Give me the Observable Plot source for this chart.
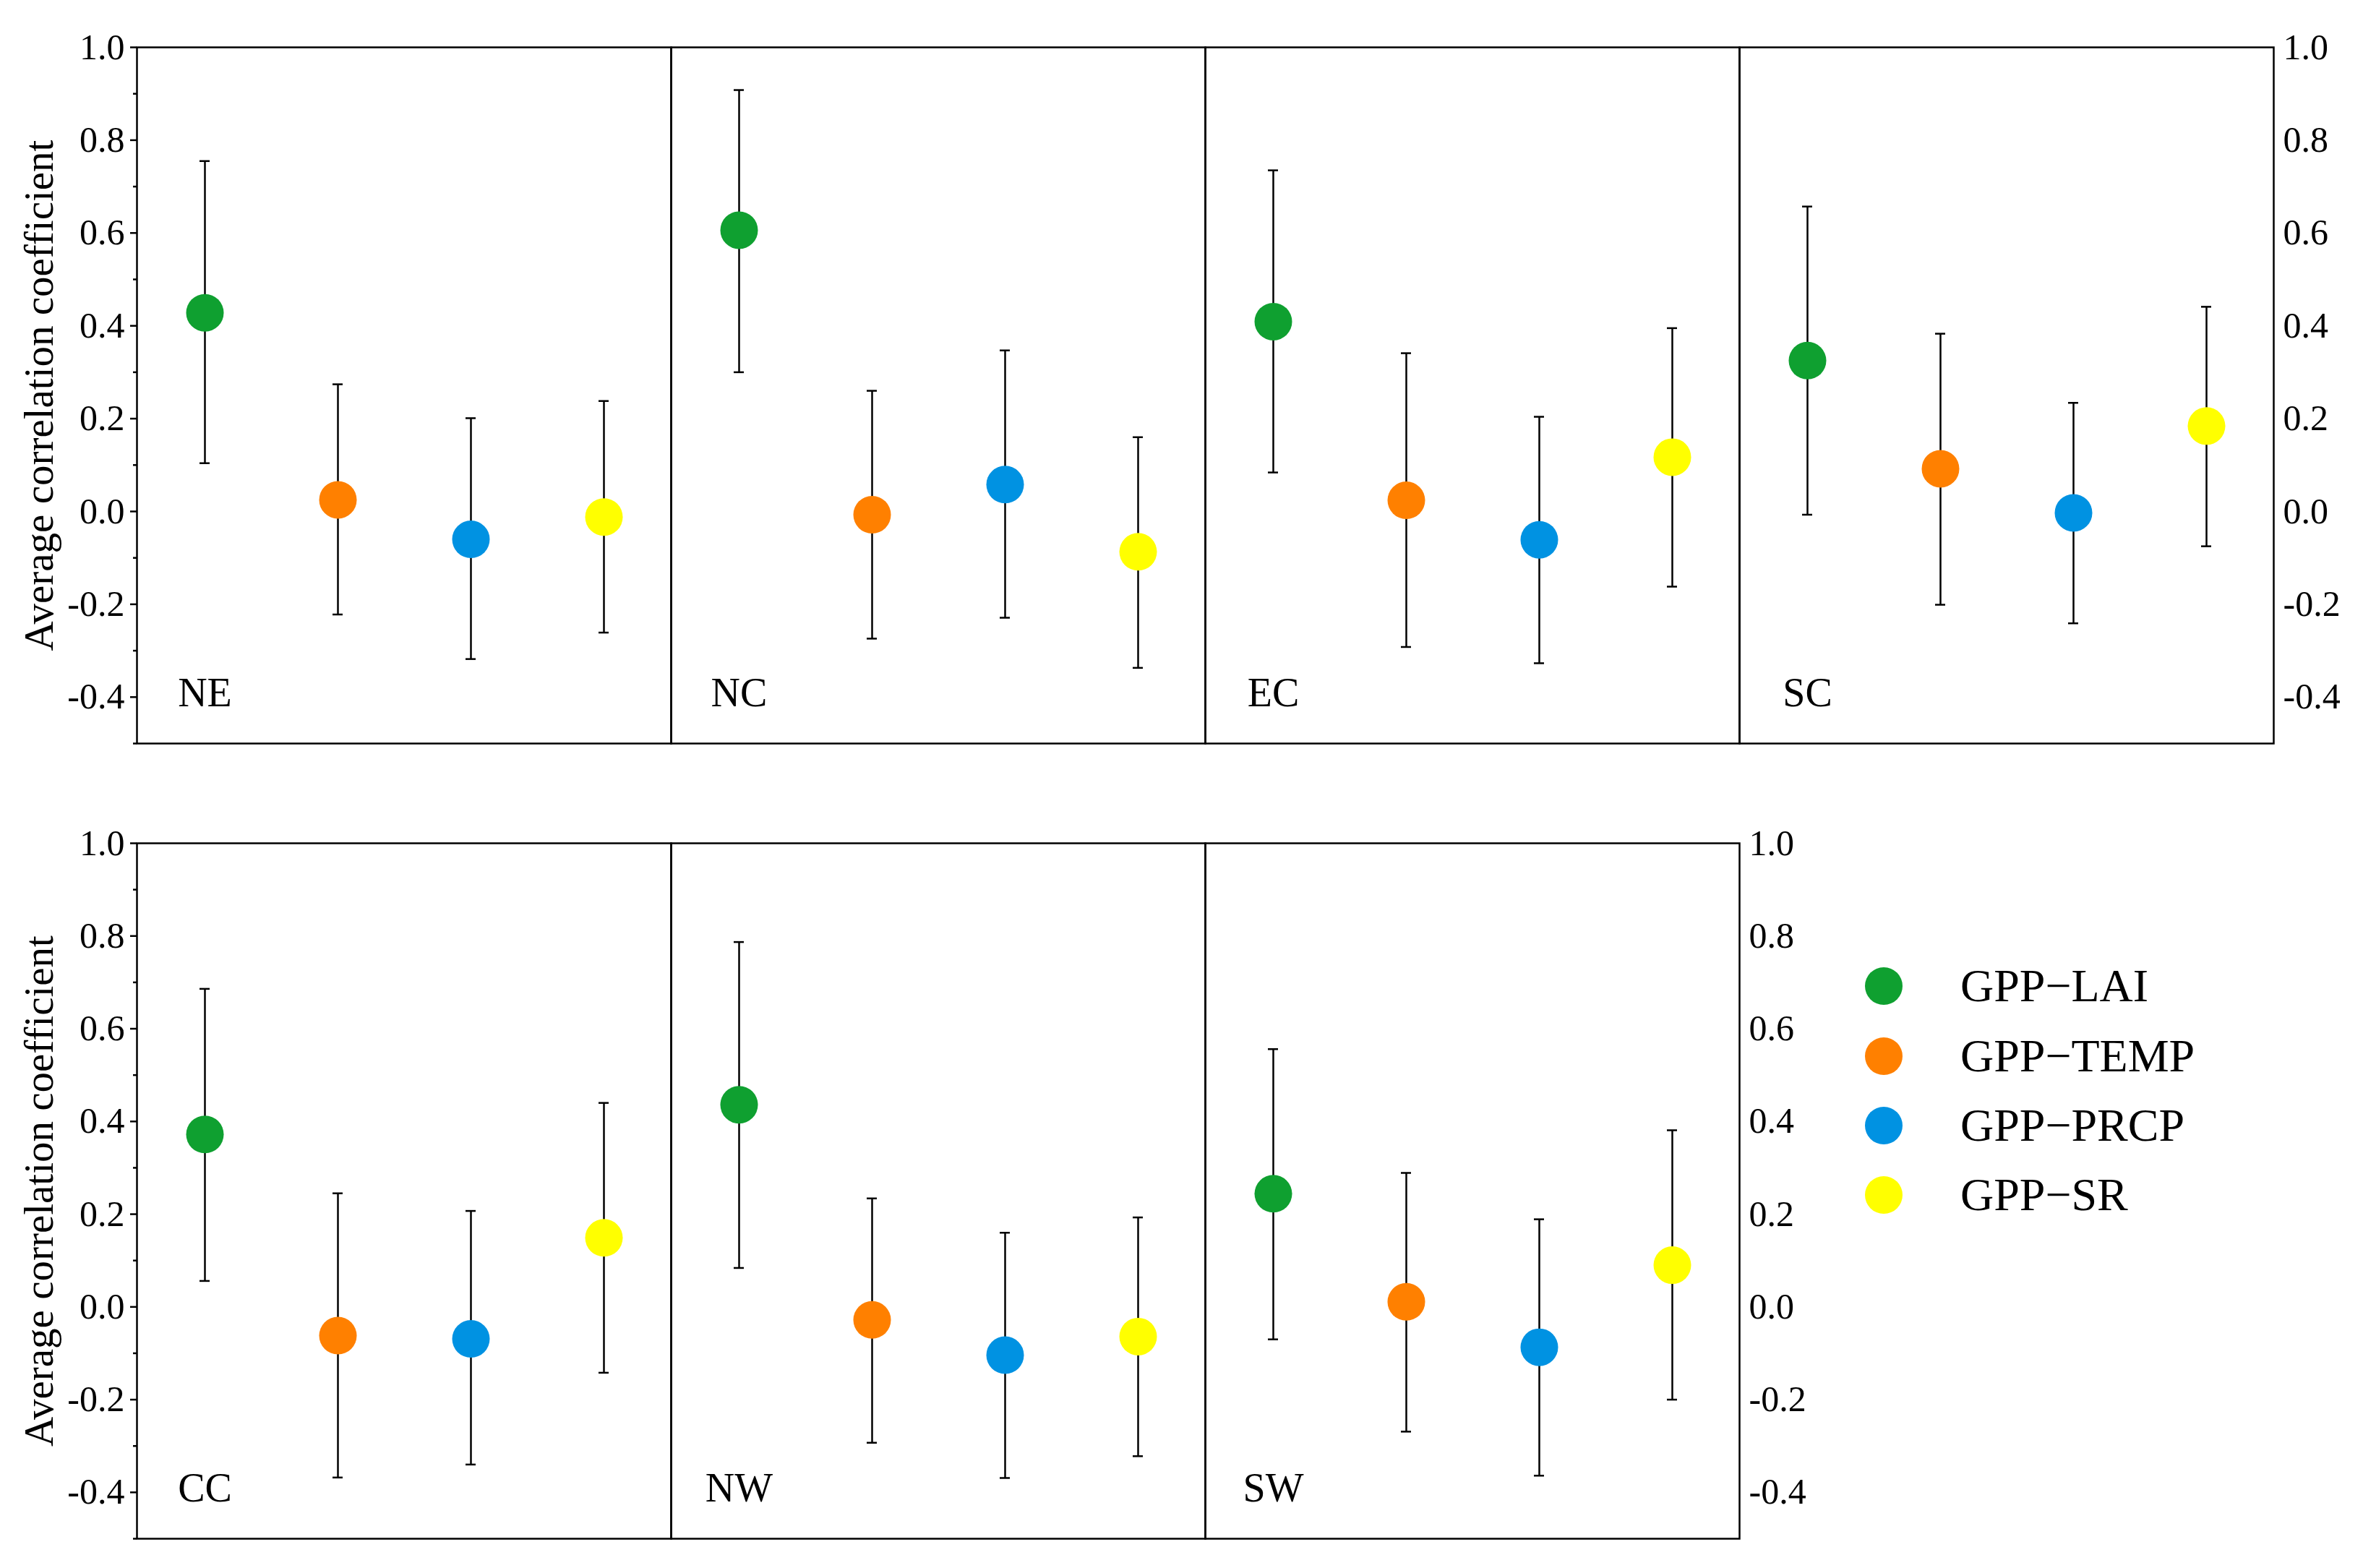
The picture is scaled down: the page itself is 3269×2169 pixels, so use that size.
<!DOCTYPE html>
<html>
<head>
<meta charset="utf-8">
<script src="https://cdn.jsdelivr.net/npm/d3@7"></script>
<script src="https://cdn.jsdelivr.net/npm/@observablehq/plot@0.6"></script>
<style>
html, body { margin: 0; padding: 0; background: #fff; }
#wrap { position: relative; width: 3269px; height: 2169px; font-family: 'Liberation Serif', serif; background: #fff; }
#top { position: absolute; left: 0; top: 0; }
#bottom { position: absolute; left: 0; top: 1100px; }
#legend { position: absolute; left: 2580px; top: 1316px; }
.item { display: flex; align-items: center; height: 96.4px; }
.sw { width: 52px; height: 52px; border-radius: 50%; margin-right: 80px; flex: none; }
.lab { font-size: 64px; line-height: 1; color: #000; white-space: nowrap; }
</style>
</head>
<body>
<div id="wrap">
  <div id="top"></div>
  <div id="bottom"></div>
  <div id="legend"></div>
</div>
<script>
// ---- data ----
const topRegions = ["NE", "NC", "EC", "SC"];
const bottomRegions = ["CC", "NW", "SW"];
const regions = ["NE", "NC", "EC", "SC", "CC", "NW", "SW"];
const pairs = ["GPP\u2212LAI", "GPP\u2212TEMP", "GPP\u2212PRCP", "GPP\u2212SR"];
const colors = ["#0fa030", "#ff8000", "#0092e2", "#ffff00"];
const majorTicks = [-0.4, -0.2, 0.0, 0.2, 0.4, 0.6, 0.8, 1.0];
const minorTicks = [-0.5, -0.3, -0.1, 0.1, 0.3, 0.5, 0.7, 0.9];
const yLabel = "Average correlation coefficient";

// values per pair, in region order NE, NC, EC, SC, CC, NW, SW
const laiMean  = [0.428, 0.606, 0.409, 0.325, 0.372, 0.436, 0.244];
const laiHigh  = [0.755, 0.908, 0.735, 0.657, 0.686, 0.787, 0.556];
const laiLow   = [0.104, 0.300, 0.084, -0.007, 0.056, 0.084, -0.070];
const tempMean = [0.025, -0.007, 0.024, 0.092, -0.062, -0.028, 0.011];
const tempHigh = [0.274, 0.260, 0.341, 0.383, 0.245, 0.234, 0.289];
const tempLow  = [-0.222, -0.274, -0.292, -0.201, -0.368, -0.293, -0.269];
const prcpMean = [-0.060, 0.058, -0.061, -0.003, -0.069, -0.104, -0.087];
const prcpHigh = [0.201, 0.347, 0.204, 0.234, 0.207, 0.160, 0.189];
const prcpLow  = [-0.318, -0.229, -0.327, -0.241, -0.340, -0.369, -0.364];
const srMean   = [-0.012, -0.087, 0.117, 0.184, 0.149, -0.064, 0.090];
const srHigh   = [0.238, 0.160, 0.395, 0.441, 0.440, 0.193, 0.381];
const srLow    = [-0.261, -0.337, -0.162, -0.075, -0.142, -0.322, -0.200];

const means = [laiMean, tempMean, prcpMean, srMean];
const highs = [laiHigh, tempHigh, prcpHigh, srHigh];
const lows = [laiLow, tempLow, prcpLow, srLow];

const rows = [];
regions.forEach((region, ri) => {
  pairs.forEach((pair, pi) => {
    rows.push({region, pair, mean: means[pi][ri], high: highs[pi][ri], low: lows[pi][ri]});
  });
});

const fmt = d => d.toFixed(1);
const labelY = -0.42;
const capInset = 85;

function chart(regs, width, height, margins) {
  const data = rows.filter(d => regs.includes(d.region));
  const labels = regs.map(r => ({region: r}));
  return Plot.plot({
    width, height,
    marginTop: margins[0], marginRight: margins[1], marginBottom: margins[2], marginLeft: margins[3],
    style: {fontFamily: "'Liberation Serif', serif", background: "white", color: "black"},
    fx: {domain: regs, padding: 0, axis: null},
    x: {domain: pairs, padding: 0, axis: null},
    y: {domain: [-0.5, 1.0]},
    color: {domain: pairs, range: colors},
    marks: [
      Plot.frame({stroke: "black", strokeWidth: 2.5}),
      Plot.axisY({anchor: "left", ticks: minorTicks, tickSize: 5, tickFormat: () => "", strokeWidth: 2.5, label: null}),
      Plot.axisY({anchor: "left", ticks: majorTicks, tickSize: 9, tickPadding: 8, tickFormat: fmt, fontSize: 50, strokeWidth: 2.5, label: null}),
      Plot.axisY({anchor: "left", ticks: [], tickSize: 0, label: yLabel, labelAnchor: "center", labelArrow: "none", labelOffset: 157, fontSize: 57}),
      Plot.axisY({anchor: "right", ticks: majorTicks, tickSize: 0, tickPadding: 13, tickFormat: fmt, fontSize: 50, label: null}),
      Plot.ruleX(data, {fx: "region", x: "pair", y1: "low", y2: "high", stroke: "black", strokeWidth: 2.5}),
      Plot.tickY(data, {fx: "region", x: "pair", y: "high", stroke: "black", strokeWidth: 2.5, insetLeft: capInset, insetRight: capInset}),
      Plot.tickY(data, {fx: "region", x: "pair", y: "low", stroke: "black", strokeWidth: 2.5, insetLeft: capInset, insetRight: capInset}),
      Plot.dot(data, {fx: "region", x: "pair", y: "mean", r: 26, fill: "pair", stroke: null}),
      Plot.text(labels, {fx: "region", x: () => pairs[0], y: () => labelY, text: "region", fontSize: 56, lineAnchor: "bottom", fill: "black"})
    ]
  });
}

document.getElementById("top").appendChild(chart(topRegions, 3269, 1100, [65, 124, 72, 189]));
document.getElementById("bottom").appendChild(chart(bottomRegions, 2540, 1069, [66, 134, 41, 189]));

const legend = document.getElementById("legend");
pairs.forEach((p, i) => {
  const item = document.createElement("div");
  item.className = "item";
  const sw = document.createElement("div");
  sw.className = "sw";
  sw.style.background = colors[i];
  const lab = document.createElement("div");
  lab.className = "lab";
  lab.textContent = p;
  item.appendChild(sw);
  item.appendChild(lab);
  legend.appendChild(item);
});
</script>
</body>
</html>
